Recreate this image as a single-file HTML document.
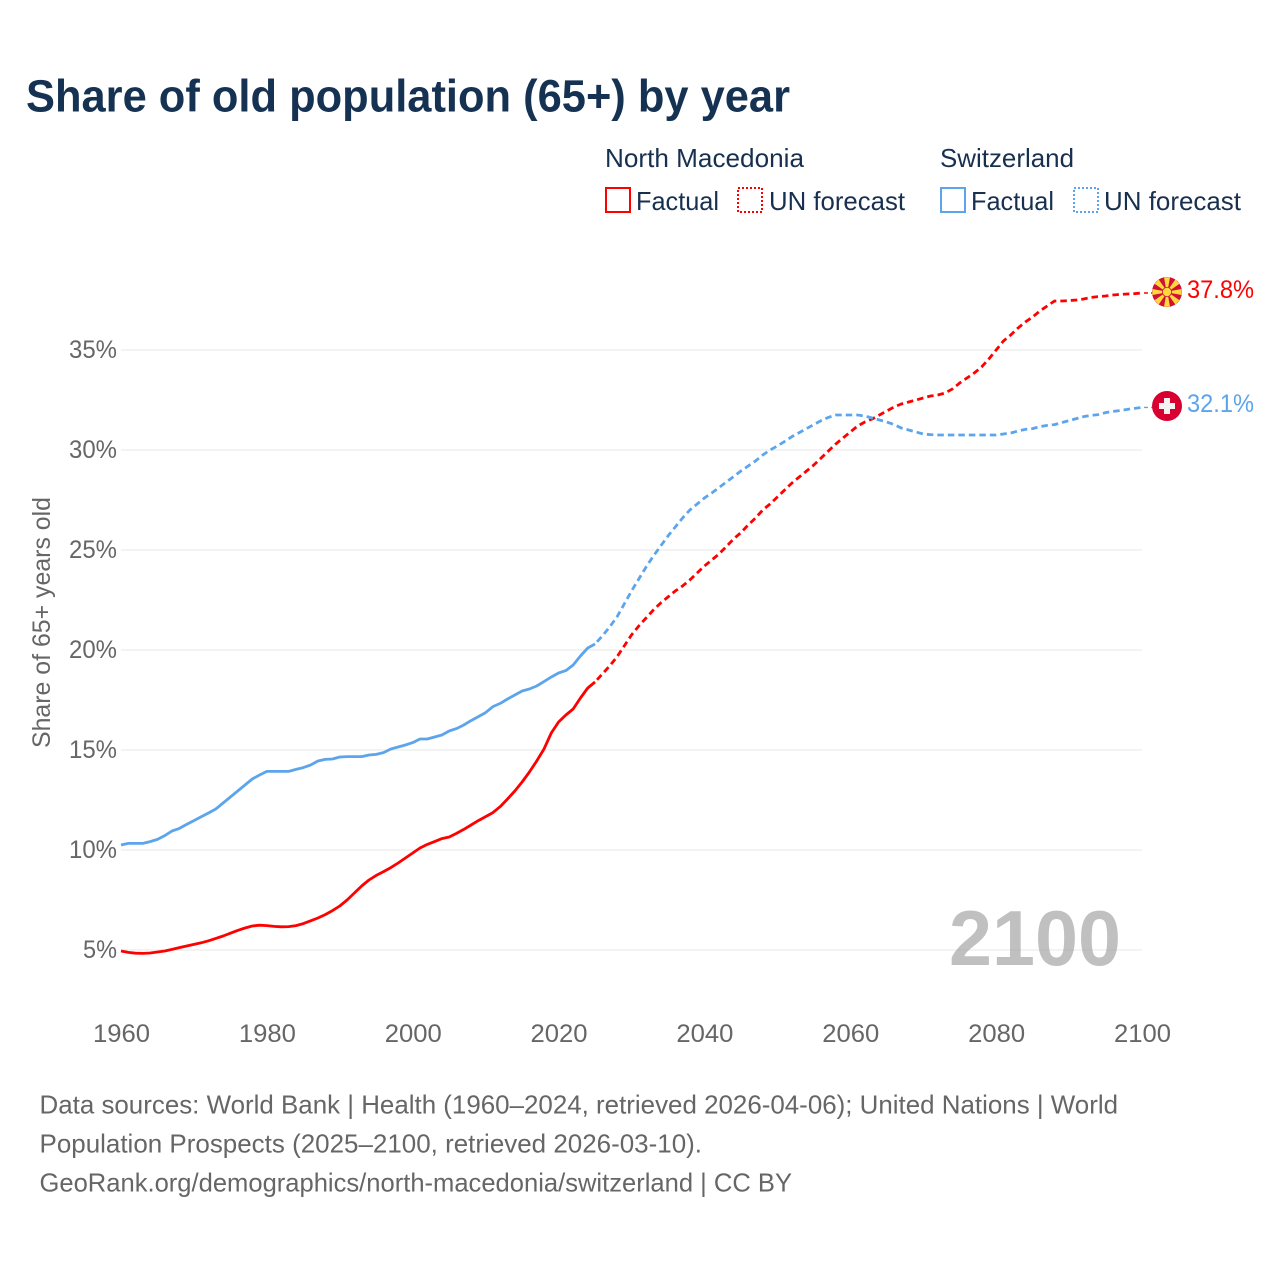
<!DOCTYPE html>
<html lang="en">
<head>
<meta charset="utf-8">
<title>Share of old population (65+) by year</title>
<style>
html,body{margin:0;padding:0;background:#fff;}
svg{display:block;}
text{font-family:"Liberation Sans",sans-serif;}
.leg{font-size:26px;fill:#18304f;}
.tick{font-size:25px;fill:#666;}
.foot{font-size:26px;fill:#666;}
</style>
</head>
<body>
<svg id="chart" xmlns="http://www.w3.org/2000/svg" width="1280" height="1280" viewBox="0 0 1280 1280">
  <rect x="0" y="0" width="1280" height="1280" fill="#fff"/>
  <text x="26" y="111.5" font-size="45" font-weight="700" fill="#163253" textLength="764" lengthAdjust="spacingAndGlyphs">Share of old population (65+) by year</text>

  <g>
    <text class="leg" x="605" y="167" textLength="199" lengthAdjust="spacingAndGlyphs">North Macedonia</text>
    <text class="leg" x="940" y="167" textLength="134" lengthAdjust="spacingAndGlyphs">Switzerland</text>
    <rect x="606" y="188" width="24" height="24" fill="none" stroke="#ff0000" stroke-width="2"/>
    <text class="leg" x="636" y="210" textLength="83" lengthAdjust="spacingAndGlyphs">Factual</text>
    <rect x="738" y="188" width="24" height="24" fill="none" stroke="#ff0000" stroke-width="2" stroke-dasharray="2 2"/>
    <text class="leg" x="769" y="210" textLength="136" lengthAdjust="spacingAndGlyphs">UN forecast</text>
    <rect x="941" y="188" width="24" height="24" fill="none" stroke="#5ca5ec" stroke-width="2"/>
    <text class="leg" x="971" y="210" textLength="83" lengthAdjust="spacingAndGlyphs">Factual</text>
    <rect x="1074" y="188" width="24" height="24" fill="none" stroke="#5ca5ec" stroke-width="2" stroke-dasharray="2 2"/>
    <text class="leg" x="1104" y="210" textLength="137" lengthAdjust="spacingAndGlyphs">UN forecast</text>
  </g>

  <g id="grid"></g>
  <g id="yticks"></g>
  <g id="xticks"></g>
  <text transform="translate(50,748) rotate(-90)" font-size="25" fill="#666" textLength="251" lengthAdjust="spacingAndGlyphs">Share of 65+ years old</text>

  <text x="949" y="965" font-size="78" font-weight="700" fill="#999" fill-opacity="0.62" textLength="172" lengthAdjust="spacingAndGlyphs">2100</text>

  <g id="series"></g>

  <g id="flag-mk"></g>
  <g id="flag-ch">
    <circle cx="1167" cy="406" r="15" fill="#d80030"/>
    <rect x="1159" y="403" width="16" height="6" fill="#f2f2f2"/>
    <rect x="1164" y="398" width="6" height="16" fill="#f2f2f2"/>
  </g>
  <text id="label-mk" x="1187" y="298" font-size="25" fill="#ff0000" textLength="67" lengthAdjust="spacingAndGlyphs"></text>
  <text id="label-ch" x="1187" y="412" font-size="25" fill="#5ca5ec" textLength="67" lengthAdjust="spacingAndGlyphs"></text>

  <g>
    <text class="foot" x="39.5" y="1113.5" textLength="1078.5" lengthAdjust="spacingAndGlyphs">Data sources: World Bank | Health (1960–2024, retrieved 2026-04-06); United Nations | World</text>
    <text class="foot" x="39.5" y="1152.5" textLength="662.5" lengthAdjust="spacingAndGlyphs">Population Prospects (2025–2100, retrieved 2026-03-10).</text>
    <text class="foot" x="39.5" y="1191.5" textLength="752.5" lengthAdjust="spacingAndGlyphs">GeoRank.org/demographics/north-macedonia/switzerland | CC BY</text>
  </g>
</svg>
<script>
const xTickYears = [1960, 1980, 2000, 2020, 2040, 2060, 2080, 2100];
const yTickValues = [5, 10, 15, 20, 25, 30, 35];
const factualYears = [1960,1961,1962,1963,1964,1965,1966,1967,1968,1969,1970,1971,1972,1973,1974,1975,1976,1977,1978,1979,1980,1981,1982,1983,1984,1985,1986,1987,1988,1989,1990,1991,1992,1993,1994,1995,1996,1997,1998,1999,2000,2001,2002,2003,2004,2005,2006,2007,2008,2009,2010,2011,2012,2013,2014,2015,2016,2017,2018,2019,2020,2021,2022,2023,2024,2025];
const forecastYears = [2025,2026,2027,2028,2029,2030,2031,2032,2033,2034,2035,2036,2037,2038,2039,2040,2041,2042,2043,2044,2045,2046,2047,2048,2049,2050,2051,2052,2053,2054,2055,2056,2057,2058,2059,2060,2061,2062,2063,2064,2065,2066,2067,2068,2069,2070,2071,2072,2073,2074,2075,2076,2077,2078,2079,2080,2081,2082,2083,2084,2085,2086,2087,2088,2089,2090,2091,2092,2093,2094,2095,2096,2097,2098,2099,2100];
const macedoniaFactual = [4.95,4.88,4.84,4.83,4.85,4.9,4.95,5.03,5.12,5.2,5.28,5.36,5.46,5.58,5.7,5.84,5.98,6.1,6.2,6.24,6.22,6.18,6.16,6.17,6.22,6.32,6.46,6.6,6.77,6.97,7.2,7.5,7.85,8.2,8.5,8.73,8.92,9.12,9.35,9.6,9.85,10.1,10.28,10.42,10.57,10.65,10.83,11.03,11.25,11.47,11.67,11.87,12.17,12.55,12.95,13.4,13.9,14.45,15.05,15.85,16.4,16.75,17.05,17.6,18.1,18.4];
const macedoniaForecast = [18.4,18.8,19.2,19.65,20.2,20.75,21.2,21.6,22.0,22.35,22.65,22.95,23.2,23.5,23.85,24.2,24.5,24.8,25.17,25.55,25.87,26.25,26.6,27.0,27.3,27.65,28.0,28.35,28.65,28.95,29.25,29.6,29.95,30.3,30.6,30.9,31.2,31.4,31.55,31.75,31.95,32.15,32.3,32.4,32.5,32.6,32.7,32.75,32.85,33.05,33.35,33.6,33.85,34.15,34.55,35.0,35.45,35.75,36.1,36.4,36.65,36.95,37.2,37.45,37.45,37.47,37.5,37.55,37.63,37.67,37.7,37.75,37.78,37.8,37.82,37.85];
const switzerlandFactual = [10.25,10.33,10.33,10.33,10.42,10.53,10.72,10.95,11.08,11.28,11.47,11.66,11.85,12.05,12.35,12.65,12.95,13.25,13.55,13.75,13.93,13.93,13.93,13.93,14.03,14.12,14.25,14.45,14.53,14.55,14.65,14.67,14.67,14.67,14.75,14.78,14.87,15.05,15.15,15.25,15.37,15.55,15.55,15.65,15.75,15.95,16.07,16.25,16.47,16.67,16.87,17.17,17.33,17.55,17.75,17.95,18.05,18.2,18.42,18.65,18.85,18.97,19.25,19.7,20.1,20.3];
const switzerlandForecast = [20.3,20.7,21.15,21.65,22.3,22.95,23.55,24.15,24.7,25.2,25.7,26.15,26.6,27.0,27.3,27.6,27.85,28.12,28.4,28.67,28.95,29.2,29.45,29.75,30.0,30.2,30.43,30.67,30.87,31.07,31.27,31.47,31.63,31.75,31.75,31.75,31.75,31.7,31.6,31.5,31.4,31.27,31.1,31.0,30.9,30.8,30.77,30.75,30.75,30.75,30.75,30.75,30.75,30.75,30.75,30.75,30.8,30.85,30.95,31.03,31.07,31.17,31.23,31.27,31.37,31.47,31.57,31.67,31.73,31.77,31.87,31.93,31.97,32.03,32.08,32.13];
const endLabelMacedonia = 37.8;
const endLabelSwitzerland = 32.1;

const NS = 'http://www.w3.org/2000/svg';
const RED = '#ff0000';
const BLUE = '#5ca5ec';
function xScale(year) { return 121 + (year - 1960) * (1142 - 121) / 140; }
function yScale(v) { return 1050 - v * 20; }
function make(tag, attrs, parent) {
  const el = document.createElementNS(NS, tag);
  for (const k in attrs) el.setAttribute(k, attrs[k]);
  parent.appendChild(el);
  return el;
}
const grid = document.getElementById('grid');
const yticks = document.getElementById('yticks');
const xticks = document.getElementById('xticks');
yTickValues.forEach(function (v) {
  const line = make('line', { x1: 121, x2: 1142, y1: yScale(v), y2: yScale(v), stroke: '#ececec', 'stroke-width': 1.3 }, grid);
  
  
  const label = v + '%';
  const w = label.length === 2 ? 34 : 48;
  const t = make('text', { x: 117 - w, y: yScale(v) + 8, class: 'tick', textLength: w, lengthAdjust: 'spacingAndGlyphs' }, yticks);
  
  
  t.textContent = label;
});
xTickYears.forEach(function (yr) {
  const t = make('text', { x: xScale(yr) - 28, y: 1042, class: 'tick', textLength: 57, lengthAdjust: 'spacingAndGlyphs' }, xticks);
  
  
  t.textContent = String(yr);
});
function pathFrom(years, values) {
  return values.map(function (v, i) {
    return (i ? 'L' : 'M') + xScale(years[i]).toFixed(2) + ' ' + yScale(v).toFixed(2);
  }).join(' ');
}
const series = document.getElementById('series');
const lineMkF = make('path', { d: pathFrom(factualYears, macedoniaFactual), fill: 'none', stroke: RED, 'stroke-width': 2.8, 'stroke-linejoin': 'round' }, series);


const lineChF = make('path', { d: pathFrom(factualYears, switzerlandFactual), fill: 'none', stroke: BLUE, 'stroke-width': 2.8, 'stroke-linejoin': 'round' }, series);


const lineMkP = make('path', { d: pathFrom(forecastYears, macedoniaForecast), fill: 'none', stroke: RED, 'stroke-width': 2.8, 'stroke-dasharray': '6.5 4', 'stroke-dashoffset': '-3' }, series);


const lineChP = make('path', { d: pathFrom(forecastYears, switzerlandForecast), fill: 'none', stroke: BLUE, 'stroke-width': 2.8, 'stroke-dasharray': '6.5 4', 'stroke-dashoffset': '-3' }, series);


const lastMk = yScale(macedoniaForecast[macedoniaForecast.length - 1]);
const lastCh = yScale(switzerlandForecast[switzerlandForecast.length - 1]);
const connMk = make('line', { x1: 1144, x2: 1153, y1: lastMk, y2: lastMk, stroke: RED, 'stroke-width': 1.4, 'stroke-dasharray': '4 3' }, series);


const connCh = make('line', { x1: 1144, x2: 1153, y1: lastCh, y2: lastCh, stroke: BLUE, 'stroke-width': 1.4, 'stroke-dasharray': '4 3' }, series);


document.getElementById('label-mk').textContent = endLabelMacedonia.toFixed(1) + '%';
document.getElementById('label-ch').textContent = endLabelSwitzerland.toFixed(1) + '%';

const mk = document.getElementById('flag-mk');
const cx = 1167, cy = 292;
const disc = make('circle', { cx: cx, cy: cy, r: 15, fill: '#d20f34' }, mk);


for (let i = 0; i < 8; i++) {
  const a = i * Math.PI / 4;
  const s = 0.2;
  const p = [[a - 0.3, 3], [a - s, 15], [a + s, 15], [a + 0.3, 3]].map(function (q) {
    return (cx + q[1] * Math.cos(q[0])).toFixed(2) + ',' + (cy + q[1] * Math.sin(q[0])).toFixed(2);
  }).join(' ');
  const ray = make('polygon', { points: p, fill: '#ffd83d' }, mk);
  
  
}
const ring = make('circle', { cx: cx, cy: cy, r: 5, fill: '#d20f34' }, mk);


const sun = make('circle', { cx: cx, cy: cy, r: 4.2, fill: '#ffd83d' }, mk);


</script>
</body>
</html>
